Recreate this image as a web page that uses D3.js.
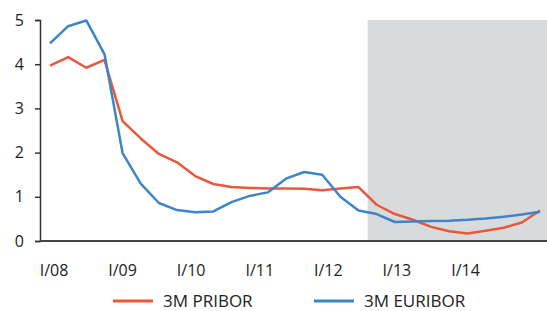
<!DOCTYPE html>
<html lang="en">
<head>
<meta charset="UTF-8">
<script src="https://cdn.jsdelivr.net/npm/d3@7"></script>
<style>
  body { margin: 0; background: #fff; }
  svg text { font-family: "Open Sans", sans-serif; fill: #222; }
</style>
</head>
<body>
<div id="chart"></div>
<script>
// quarterly values, Q1 2008 .. Q4 2014
const pribor = [3.97, 4.16, 3.92, 4.10, 2.71, 2.32, 1.97, 1.78, 1.47, 1.29, 1.22, 1.20,
                1.19, 1.19, 1.18, 1.15, 1.19, 1.22, 0.82, 0.61, 0.48, 0.32, 0.22, 0.17,
                0.23, 0.30, 0.42, 0.69];
const euribor = [4.47, 4.86, 4.99, 4.23, 1.99, 1.30, 0.86, 0.70, 0.65, 0.67, 0.88, 1.02,
                 1.10, 1.41, 1.56, 1.50, 1.00, 0.69, 0.61, 0.43, 0.44, 0.45, 0.46, 0.48,
                 0.51, 0.55, 0.60, 0.66];
const yearLabels = ["I/08", "I/09", "I/10", "I/11", "I/12", "I/13", "I/14"];
const yTicks = [0, 1, 2, 3, 4, 5];
const forecastFrom = 17.5; // shaded part starts between Q2 and Q3 2012

const series = [
  { name: "3M PRIBOR", values: pribor, color: "#e8583b" },
  { name: "3M EURIBOR", values: euribor, color: "#3d85c6" }
];

const width = 547, height = 311;
const mLeft = 40, mRight = 547, mTop = 20, mBottom = 241;

const svg = d3.select("#chart").append("svg")
    .attr("width", width)
    .attr("height", height);

const x = d3.scaleLinear().domain([0, pribor.length - 1]).range([50, 540]);
const xLab = d3.scalePoint().domain(yearLabels).range([53.5, 465]);
const y = d3.scaleLinear().domain([0, 5]).range([mBottom, mTop]);

// shaded forecast area
svg.append("rect")
    .attr("x", x(forecastFrom))
    .attr("y", y(5))
    .attr("width", mRight - x(forecastFrom))
    .attr("height", y(0) - y(5))
    .attr("fill", "#d9dadc");

// y axis
const gy = svg.append("g")
    .attr("transform", `translate(${mLeft},0)`)
    .call(d3.axisLeft(y).tickValues(yTicks).tickFormat(d3.format("d")).tickSize(5).tickPadding(11));
gy.select(".domain").attr("stroke", "#333").attr("stroke-width", 1.5);
gy.selectAll(".tick line").attr("stroke", "#333").attr("stroke-width", 1.5);
gy.selectAll(".tick text").attr("font-size", 16).attr("font-family", "Open Sans, sans-serif").attr("fill", "#222");

// x axis labels
const gx = svg.append("g")
    .attr("transform", `translate(0,${mBottom})`)
    .call(d3.axisBottom(xLab).tickSize(0).tickPadding(24));
gx.select(".domain").remove();
gx.selectAll(".tick text").attr("font-size", 16).attr("font-family", "Open Sans, sans-serif").attr("fill", "#222");

svg.append("line")
    .attr("x1", mLeft).attr("x2", mRight)
    .attr("y1", y(0)).attr("y2", y(0))
    .attr("stroke", "#444").attr("stroke-width", 2);

// lines
const line = d3.line()
    .x((d, i) => x(i))
    .y(d => y(d));

svg.selectAll(".series")
  .data(series)
  .enter().append("path")
    .attr("class", "series")
    .attr("d", d => line(d.values))
    .attr("fill", "none")
    .attr("stroke", d => d.color)
    .attr("stroke-width", 2.5)
    .attr("stroke-linejoin", "round");

// legend
const legendX = [113, 314];
const lg = svg.selectAll(".legend")
  .data(series)
  .enter().append("g")
    .attr("class", "legend")
    .attr("transform", (d, i) => `translate(${legendX[i]},301)`);
lg.append("line")
    .attr("x1", 0).attr("x2", 40)
    .attr("stroke", d => d.color)
    .attr("stroke-width", 3);
lg.append("text")
    .attr("x", 50)
    .attr("dy", "0.35em")
    .attr("font-size", 17)
    .text(d => d.name);
</script>
</body>
</html>
